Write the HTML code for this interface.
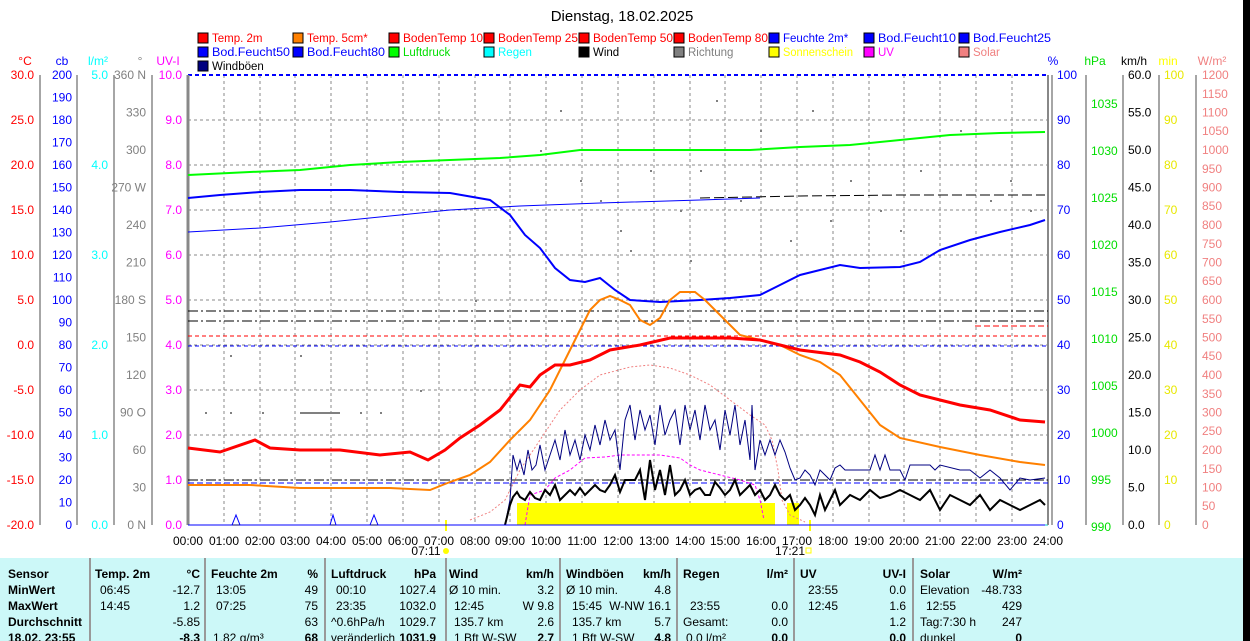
<!DOCTYPE html>
<html><head><meta charset="utf-8"><style>
body{margin:0;background:#fff;}
svg{display:block;font-family:"Liberation Sans",sans-serif;}
</style></head><body>
<svg width="1250" height="641" viewBox="0 0 1250 641" xmlns="http://www.w3.org/2000/svg">
<rect x="0" y="0" width="1250" height="641" fill="#fff"/>
<rect x="1243" y="0" width="7" height="641" fill="#000"/>
<text x="622" y="21" font-size="15" text-anchor="middle" fill="#000">Dienstag, 18.02.2025</text>

<!-- legend -->
<g font-size="11.5">
<g stroke="#000" stroke-width="1">
<rect x="198" y="33" width="10" height="10" fill="#f00"/><rect x="293" y="33" width="10" height="10" fill="#ff8000"/><rect x="389" y="33" width="10" height="10" fill="#f00"/><rect x="484" y="33" width="10" height="10" fill="#f00"/><rect x="579" y="33" width="10" height="10" fill="#f00"/><rect x="674" y="33" width="10" height="10" fill="#f00"/><rect x="769" y="33" width="10" height="10" fill="#00f"/><rect x="864" y="33" width="10" height="10" fill="#00f"/><rect x="959" y="33" width="10" height="10" fill="#00f"/>
<rect x="198" y="47" width="10" height="10" fill="#00f"/><rect x="293" y="47" width="10" height="10" fill="#00f"/><rect x="389" y="47" width="10" height="10" fill="#0f0"/><rect x="484" y="47" width="10" height="10" fill="#0ff"/><rect x="579" y="47" width="10" height="10" fill="#000"/><rect x="674" y="47" width="10" height="10" fill="#808080"/><rect x="769" y="47" width="10" height="10" fill="#ff0"/><rect x="864" y="47" width="10" height="10" fill="#f0f"/><rect x="959" y="47" width="10" height="10" fill="#f08080"/>
<rect x="198" y="61" width="10" height="10" fill="#000080"/>
</g>
<text x="212" y="42" fill="#f00">Temp. 2m</text><text x="307" y="42" fill="#f00">Temp. 5cm*</text><text x="403" y="42" fill="#f00" textLength="80" lengthAdjust="spacingAndGlyphs">BodenTemp 10</text><text x="498" y="42" fill="#f00" textLength="80" lengthAdjust="spacingAndGlyphs">BodenTemp 25</text><text x="593" y="42" fill="#f00" textLength="80" lengthAdjust="spacingAndGlyphs">BodenTemp 50</text><text x="688" y="42" fill="#f00" textLength="80" lengthAdjust="spacingAndGlyphs">BodenTemp 80</text><text x="783" y="42" fill="#00f">Feuchte 2m*</text><text x="878" y="42" fill="#00f" textLength="78" lengthAdjust="spacingAndGlyphs">Bod.Feucht10</text><text x="973" y="42" fill="#00f" textLength="78" lengthAdjust="spacingAndGlyphs">Bod.Feucht25</text>
<text x="212" y="56" fill="#00f" textLength="78" lengthAdjust="spacingAndGlyphs">Bod.Feucht50</text><text x="307" y="56" fill="#00f" textLength="78" lengthAdjust="spacingAndGlyphs">Bod.Feucht80</text><text x="403" y="56" fill="#0d0">Luftdruck</text><text x="498" y="56" fill="#0ff">Regen</text><text x="593" y="56" fill="#000">Wind</text><text x="688" y="56" fill="#808080">Richtung</text><text x="783" y="56" fill="#ff0" textLength="70" lengthAdjust="spacingAndGlyphs">Sonnenschein</text><text x="878" y="56" fill="#f0f">UV</text><text x="973" y="56" fill="#f08080">Solar</text>
<text x="212" y="70" fill="#000">Windböen</text>
</g>

<!-- unit headers -->
<g font-size="12">
<text x="25" y="65" text-anchor="middle" fill="#f00">°C</text><text x="62" y="65" text-anchor="middle" fill="#00f">cb</text><text x="98" y="65" text-anchor="middle" fill="#0ff">l/m²</text><text x="140" y="65" text-anchor="middle" fill="#808080">°</text><text x="168" y="65" text-anchor="middle" fill="#f0f">UV-I</text>
<text x="1053" y="65" text-anchor="middle" fill="#00f">%</text><text x="1095" y="65" text-anchor="middle" fill="#0d0">hPa</text><text x="1134" y="65" text-anchor="middle" fill="#000">km/h</text><text x="1168" y="65" text-anchor="middle" fill="#ff0">min</text><text x="1212" y="65" text-anchor="middle" fill="#f08080">W/m²</text>
</g>

<!-- grid -->
<g stroke="#888" stroke-dasharray="3,3" stroke-width="1">
<line x1="188" y1="120" x2="1048" y2="120"/><line x1="188" y1="165" x2="1048" y2="165"/><line x1="188" y1="210" x2="1048" y2="210"/><line x1="188" y1="255" x2="1048" y2="255"/><line x1="188" y1="300" x2="1048" y2="300"/><line x1="188" y1="345" x2="1048" y2="345"/><line x1="188" y1="390" x2="1048" y2="390"/><line x1="188" y1="435" x2="1048" y2="435"/><line x1="188" y1="480" x2="1048" y2="480"/>
<line x1="224" y1="75" x2="224" y2="525"/><line x1="260" y1="75" x2="260" y2="525"/><line x1="295" y1="75" x2="295" y2="525"/><line x1="331" y1="75" x2="331" y2="525"/><line x1="367" y1="75" x2="367" y2="525"/><line x1="403" y1="75" x2="403" y2="525"/><line x1="439" y1="75" x2="439" y2="525"/><line x1="475" y1="75" x2="475" y2="525"/><line x1="510" y1="75" x2="510" y2="525"/><line x1="546" y1="75" x2="546" y2="525"/><line x1="582" y1="75" x2="582" y2="525"/><line x1="618" y1="75" x2="618" y2="525"/><line x1="654" y1="75" x2="654" y2="525"/><line x1="690" y1="75" x2="690" y2="525"/><line x1="725" y1="75" x2="725" y2="525"/><line x1="761" y1="75" x2="761" y2="525"/><line x1="797" y1="75" x2="797" y2="525"/><line x1="833" y1="75" x2="833" y2="525"/><line x1="869" y1="75" x2="869" y2="525"/><line x1="904" y1="75" x2="904" y2="525"/><line x1="940" y1="75" x2="940" y2="525"/><line x1="976" y1="75" x2="976" y2="525"/><line x1="1012" y1="75" x2="1012" y2="525"/>
</g>
<line x1="188" y1="75" x2="1048" y2="75" stroke="#00f" stroke-width="2" stroke-dasharray="4,3"/>
<line x1="188" y1="525" x2="1048" y2="525" stroke="#0cc" stroke-width="1"/>

<!-- axes lines -->
<g stroke="#888" stroke-width="1.5">
<line x1="40" y1="75" x2="40" y2="525"/><line x1="77" y1="75" x2="77" y2="525"/><line x1="114" y1="75" x2="114" y2="525"/><line x1="152" y1="75" x2="152" y2="525"/><line x1="188" y1="75" x2="188" y2="525" stroke-width="3"/>
<line x1="1048" y1="75" x2="1048" y2="525" stroke-width="2"/><line x1="1052" y1="75" x2="1052" y2="525"/><line x1="1086" y1="75" x2="1086" y2="525"/><line x1="1123" y1="75" x2="1123" y2="525"/><line x1="1159" y1="75" x2="1159" y2="525"/><line x1="1196" y1="75" x2="1196" y2="525"/>
</g>

<!-- left tick labels -->
<g font-size="12" text-anchor="end" dominant-baseline="central">
<g fill="#f00"><text x="34" y="75">30.0</text><text x="34" y="120">25.0</text><text x="34" y="165">20.0</text><text x="34" y="210">15.0</text><text x="34" y="255">10.0</text><text x="34" y="300">5.0</text><text x="34" y="345">0.0</text><text x="34" y="390">-5.0</text><text x="34" y="435">-10.0</text><text x="34" y="480">-15.0</text><text x="34" y="525">-20.0</text></g>
<g fill="#00f"><text x="72" y="75">200</text><text x="72" y="97.5">190</text><text x="72" y="120">180</text><text x="72" y="142.5">170</text><text x="72" y="165">160</text><text x="72" y="187.5">150</text><text x="72" y="210">140</text><text x="72" y="232.5">130</text><text x="72" y="255">120</text><text x="72" y="277.5">110</text><text x="72" y="300">100</text><text x="72" y="322.5">90</text><text x="72" y="345">80</text><text x="72" y="367.5">70</text><text x="72" y="390">60</text><text x="72" y="412.5">50</text><text x="72" y="435">40</text><text x="72" y="457.5">30</text><text x="72" y="480">20</text><text x="72" y="502.5">10</text><text x="72" y="525">0</text></g>
<g fill="#0ff"><text x="108" y="75">5.0</text><text x="108" y="165">4.0</text><text x="108" y="255">3.0</text><text x="108" y="345">2.0</text><text x="108" y="435">1.0</text><text x="108" y="525">0.0</text></g>
<g fill="#808080"><text x="146" y="75">360 N</text><text x="146" y="112.5">330</text><text x="146" y="150">300</text><text x="146" y="187.5">270 W</text><text x="146" y="225">240</text><text x="146" y="262.5">210</text><text x="146" y="300">180 S</text><text x="146" y="337.5">150</text><text x="146" y="375">120</text><text x="146" y="412.5">90 O</text><text x="146" y="450">60</text><text x="146" y="487.5">30</text><text x="146" y="525">0 N</text></g>
<g fill="#f0f"><text x="182" y="75">10.0</text><text x="182" y="120">9.0</text><text x="182" y="165">8.0</text><text x="182" y="210">7.0</text><text x="182" y="255">6.0</text><text x="182" y="300">5.0</text><text x="182" y="345">4.0</text><text x="182" y="390">3.0</text><text x="182" y="435">2.0</text><text x="182" y="480">1.0</text><text x="182" y="525">0.0</text></g>
</g>
<!-- right tick labels -->
<g font-size="12" dominant-baseline="central">
<g fill="#00f"><text x="1057" y="75">100</text><text x="1057" y="120">90</text><text x="1057" y="165">80</text><text x="1057" y="210">70</text><text x="1057" y="255">60</text><text x="1057" y="300">50</text><text x="1057" y="345">40</text><text x="1057" y="390">30</text><text x="1057" y="435">20</text><text x="1057" y="480">10</text><text x="1057" y="525">0</text></g>
<g fill="#0d0"><text x="1091" y="104">1035</text><text x="1091" y="151">1030</text><text x="1091" y="198">1025</text><text x="1091" y="245">1020</text><text x="1091" y="292">1015</text><text x="1091" y="339">1010</text><text x="1091" y="386">1005</text><text x="1091" y="433">1000</text><text x="1091" y="480">995</text><text x="1091" y="527">990</text></g>
<g fill="#000"><text x="1128" y="75">60.0</text><text x="1128" y="112.5">55.0</text><text x="1128" y="150">50.0</text><text x="1128" y="187.5">45.0</text><text x="1128" y="225">40.0</text><text x="1128" y="262.5">35.0</text><text x="1128" y="300">30.0</text><text x="1128" y="337.5">25.0</text><text x="1128" y="375">20.0</text><text x="1128" y="412.5">15.0</text><text x="1128" y="450">10.0</text><text x="1128" y="487.5">5.0</text><text x="1128" y="525">0.0</text></g>
<g fill="#e8e800"><text x="1164" y="75">100</text><text x="1164" y="120">90</text><text x="1164" y="165">80</text><text x="1164" y="210">70</text><text x="1164" y="255">60</text><text x="1164" y="300">50</text><text x="1164" y="345">40</text><text x="1164" y="390">30</text><text x="1164" y="435">20</text><text x="1164" y="480">10</text><text x="1164" y="525">0</text></g>
<g fill="#f08080"><text x="1202" y="75">1200</text><text x="1202" y="94">1150</text><text x="1202" y="112.5">1100</text><text x="1202" y="131">1050</text><text x="1202" y="150">1000</text><text x="1202" y="169">950</text><text x="1202" y="187.5">900</text><text x="1202" y="206">850</text><text x="1202" y="225">800</text><text x="1202" y="244">750</text><text x="1202" y="262.5">700</text><text x="1202" y="281">650</text><text x="1202" y="300">600</text><text x="1202" y="319">550</text><text x="1202" y="337.5">500</text><text x="1202" y="356">450</text><text x="1202" y="375">400</text><text x="1202" y="394">350</text><text x="1202" y="412.5">300</text><text x="1202" y="431">250</text><text x="1202" y="450">200</text><text x="1202" y="469">150</text><text x="1202" y="487.5">100</text><text x="1202" y="506">50</text><text x="1202" y="525">0</text></g>
</g>

<!-- x labels -->
<g font-size="12" text-anchor="middle" fill="#000">
<text x="188" y="545">00:00</text><text x="224" y="545">01:00</text><text x="260" y="545">02:00</text><text x="295" y="545">03:00</text><text x="331" y="545">04:00</text><text x="367" y="545">05:00</text><text x="403" y="545">06:00</text><text x="439" y="545">07:00</text><text x="475" y="545">08:00</text><text x="510" y="545">09:00</text><text x="546" y="545">10:00</text><text x="582" y="545">11:00</text><text x="618" y="545">12:00</text><text x="654" y="545">13:00</text><text x="690" y="545">14:00</text><text x="725" y="545">15:00</text><text x="761" y="545">16:00</text><text x="797" y="545">17:00</text><text x="833" y="545">18:00</text><text x="869" y="545">19:00</text><text x="904" y="545">20:00</text><text x="940" y="545">21:00</text><text x="976" y="545">22:00</text><text x="1012" y="545">23:00</text><text x="1048" y="545">24:00</text>
<text x="426" y="555">07:11</text><text x="790" y="555">17:21</text>
</g>
<circle cx="446" cy="551" r="3" fill="#ff0"/><rect x="806" y="548" width="5" height="5" fill="none" stroke="#ff0"/>
<line x1="446" y1="520" x2="446" y2="531" stroke="#ff0" stroke-width="2"/><line x1="810" y1="520" x2="810" y2="531" stroke="#ff0" stroke-width="2"/>

<!-- sunshine -->
<rect x="517" y="503" width="232" height="22" fill="#ff0"/><rect x="749" y="503" width="26" height="22" fill="#ff0"/><rect x="787" y="503" width="12" height="22" fill="#ff0"/>

<!-- horizontal reference lines -->
<line x1="188" y1="311" x2="1048" y2="311" stroke="#000" stroke-dasharray="10,3,2,3"/>
<line x1="188" y1="321" x2="1048" y2="321" stroke="#000" stroke-dasharray="10,3,2,3"/>
<line x1="188" y1="336" x2="1048" y2="336" stroke="#f00" stroke-dasharray="4,3"/>
<line x1="188" y1="346" x2="1048" y2="346" stroke="#00f" stroke-dasharray="4,3"/>
<line x1="975" y1="326" x2="1048" y2="326" stroke="#f00" stroke-dasharray="6,3"/>
<line x1="188" y1="480" x2="1048" y2="480" stroke="#000" stroke-dasharray="10,3,2,3"/>
<line x1="188" y1="483" x2="1048" y2="483" stroke="#00f" stroke-dasharray="6,3"/>
<polyline fill="none" stroke="#000" stroke-dasharray="10,4" points="700,198 800,196 900,195 1045,195"/>
<polyline fill="none" stroke="#00f" points="188,232 260,228 330,222 400,215 450,210 520,206 600,203 700,200 760,198"/>

<!-- direction dots -->
<g fill="#808080">
<rect x="205" y="412" width="2" height="2"/><rect x="230" y="412" width="2" height="2"/><rect x="262" y="412" width="2" height="2"/><rect x="300" y="412" width="40" height="2"/><rect x="360" y="412" width="2" height="2"/><rect x="380" y="412" width="2" height="2"/><rect x="230" y="355" width="2" height="2"/><rect x="300" y="355" width="2" height="2"/><rect x="420" y="390" width="2" height="2"/><rect x="475" y="300" width="2" height="2"/><rect x="540" y="150" width="2" height="2"/><rect x="560" y="110" width="2" height="2"/><rect x="600" y="200" width="2" height="2"/><rect x="620" y="230" width="2" height="2"/><rect x="650" y="170" width="2" height="2"/><rect x="690" y="260" width="2" height="2"/><rect x="716" y="100" width="2" height="2"/><rect x="740" y="200" width="2" height="2"/><rect x="760" y="130" width="2" height="2"/><rect x="790" y="240" width="2" height="2"/><rect x="812" y="110" width="2" height="2"/><rect x="830" y="220" width="2" height="2"/><rect x="850" y="180" width="2" height="2"/><rect x="880" y="210" width="2" height="2"/><rect x="900" y="230" width="2" height="2"/><rect x="920" y="170" width="2" height="2"/><rect x="960" y="130" width="2" height="2"/><rect x="990" y="200" width="2" height="2"/><rect x="1010" y="180" width="2" height="2"/><rect x="1030" y="210" width="2" height="2"/><rect x="580" y="180" width="2" height="2"/><rect x="630" y="250" width="2" height="2"/><rect x="680" y="210" width="2" height="2"/><rect x="700" y="170" width="2" height="2"/>
</g>

<!-- solar -->
<polyline fill="none" stroke="#f08080" stroke-dasharray="2,2" points="470,520 490,512 505,500 520,470 540,440 560,410 580,390 600,375 630,367 650,365 670,368 690,375 710,385 730,400 750,415 765,425 772,440 778,470 782,500 790,515 805,522"/>
<!-- UV -->
<polyline fill="none" stroke="#f0f" stroke-dasharray="3,2" points="525,525 530,495 545,490 555,478 570,470 585,458 605,457 620,455 660,455 680,458 690,465 700,470 720,475 740,480 755,485 760,500 764,520"/>

<!-- Feuchte 2m -->
<polyline fill="none" stroke="#00f" stroke-width="2" points="188,198 220,195 260,192 300,190 350,190 400,192 450,193 490,200 510,215 525,235 540,248 555,268 570,280 585,282 600,278 615,290 630,300 660,302 700,300 730,298 760,295 780,285 800,275 820,270 840,265 860,268 900,267 920,262 940,250 970,240 1000,232 1030,225 1045,220"/>
<!-- Luftdruck -->
<polyline fill="none" stroke="#0f0" stroke-width="2" points="188,175 250,172 300,170 350,165 400,162 450,160 500,158 540,155 580,150 650,150 700,150 750,150 800,147 850,145 900,140 950,135 1000,133 1045,132"/>
<!-- Temp 5cm -->
<polyline fill="none" stroke="#ff8000" stroke-width="2" points="188,485 250,485 300,488 350,488 390,488 430,490 450,482 470,475 490,462 510,440 530,420 550,390 565,360 575,340 590,310 600,300 610,296 620,300 630,305 640,320 650,325 660,318 670,300 680,292 695,292 705,300 720,315 740,335 760,340 780,345 800,355 820,362 840,375 860,400 880,425 900,438 940,447 980,455 1020,462 1045,465"/>
<!-- Temp 2m -->
<polyline fill="none" stroke="#f00" stroke-width="3" points="188,448 220,452 255,440 270,448 300,450 340,450 380,455 410,452 428,460 445,450 460,438 480,425 500,410 520,385 530,387 540,375 555,365 570,365 590,360 610,350 640,345 670,338 700,338 730,338 760,340 780,345 800,350 840,355 860,362 880,372 900,385 920,395 940,400 960,405 990,410 1020,420 1045,422"/>
<!-- Windböen -->
<polyline fill="none" stroke="#000080" stroke-width="1" points="188,525 500,525 505,525 510,500 513,455 517,470 520,460 524,475 528,450 532,470 536,465 540,445 545,470 550,455 555,440 560,460 565,430 570,455 575,440 580,460 585,435 590,450 595,425 600,445 605,420 610,440 615,430 620,470 625,420 630,405 635,440 640,410 645,430 650,415 655,445 660,405 665,435 670,420 675,410 680,445 685,405 690,430 695,410 700,440 705,405 710,430 715,420 720,450 725,410 730,435 735,405 740,445 745,420 750,460 752,405 755,470 760,440 765,455 770,440 775,455 780,440 785,452 790,468 795,480 800,478 805,470 810,475 815,485 820,470 825,475 830,480 835,468 840,465 845,470 860,470 870,470 875,455 880,470 885,455 890,470 900,470 905,480 910,465 930,465 935,470 940,465 960,470 970,470 980,478 990,470 1000,478 1010,490 1020,478 1030,480 1045,478"/>
<!-- Wind -->
<polyline fill="none" stroke="#000" stroke-width="2" points="505,525 510,505 513,497 517,492 520,497 525,500 530,492 535,498 540,500 545,490 550,495 555,485 560,500 565,495 570,490 575,495 580,488 585,495 590,490 595,485 600,490 605,492 610,485 615,475 620,492 625,480 630,480 635,480 640,470 645,500 650,460 655,490 660,470 665,495 670,465 675,495 680,490 685,480 690,495 695,490 700,488 705,495 710,495 715,482 720,488 725,495 730,490 735,480 740,495 745,490 750,485 755,495 760,490 765,500 770,495 775,485 780,495 785,500 790,495 795,510 800,505 805,498 810,505 815,515 820,495 825,510 830,500 835,490 840,505 850,495 860,500 870,490 880,498 890,495 900,490 910,495 920,500 930,490 940,510 950,495 960,500 970,505 980,495 990,510 1000,500 1010,505 1020,510 1030,505 1040,500 1045,505"/>
<polyline fill="none" stroke="#00f" stroke-width="1" points="188,525 232,525 236,515 240,525 330,525 333,515 336,525 370,525 374,515 378,525 1045,525"/>

<!-- table -->
<rect x="0" y="558" width="1243" height="83" fill="#ccf8f8"/>
<g stroke="#999" stroke-width="2">
<line x1="90" y1="558" x2="90" y2="641"/><line x1="205" y1="558" x2="205" y2="641"/><line x1="325" y1="558" x2="325" y2="641"/><line x1="446" y1="558" x2="446" y2="641"/><line x1="560" y1="558" x2="560" y2="641"/><line x1="677" y1="558" x2="677" y2="641"/><line x1="794" y1="558" x2="794" y2="641"/><line x1="913" y1="558" x2="913" y2="641"/>
</g>
<g font-size="12" fill="#000">
<g font-weight="bold"><text x="8" y="578">Sensor</text><text x="8" y="594">MinWert</text><text x="8" y="610">MaxWert</text><text x="8" y="626">Durchschnitt</text><text x="8" y="642">18.02. 23:55</text>
<text x="95" y="578">Temp. 2m</text><text x="200" y="578" text-anchor="end">°C</text>
<text x="211" y="578">Feuchte 2m</text><text x="318" y="578" text-anchor="end">%</text>
<text x="331" y="578">Luftdruck</text><text x="436" y="578" text-anchor="end">hPa</text>
<text x="449" y="578">Wind</text><text x="554" y="578" text-anchor="end">km/h</text>
<text x="566" y="578">Windböen</text><text x="671" y="578" text-anchor="end">km/h</text>
<text x="683" y="578">Regen</text><text x="788" y="578" text-anchor="end">l/m²</text>
<text x="800" y="578">UV</text><text x="906" y="578" text-anchor="end">UV-I</text>
<text x="920" y="578">Solar</text><text x="1022" y="578" text-anchor="end">W/m²</text>
<text x="200" y="642" text-anchor="end">-8.3</text><text x="318" y="642" text-anchor="end">68</text><text x="436" y="642" text-anchor="end">1031.9</text><text x="554" y="642" text-anchor="end">2.7</text><text x="671" y="642" text-anchor="end">4.8</text><text x="788" y="642" text-anchor="end">0.0</text><text x="906" y="642" text-anchor="end">0.0</text><text x="1022" y="642" text-anchor="end">0</text>
</g>
<text x="100" y="594">06:45</text><text x="200" y="594" text-anchor="end">-12.7</text><text x="100" y="610">14:45</text><text x="200" y="610" text-anchor="end">1.2</text><text x="200" y="626" text-anchor="end">-5.85</text>
<text x="216" y="594">13:05</text><text x="318" y="594" text-anchor="end">49</text><text x="216" y="610">07:25</text><text x="318" y="610" text-anchor="end">75</text><text x="318" y="626" text-anchor="end">63</text><text x="213" y="642">1.82 g/m³</text>
<text x="336" y="594">00:10</text><text x="436" y="594" text-anchor="end">1027.4</text><text x="336" y="610">23:35</text><text x="436" y="610" text-anchor="end">1032.0</text><text x="331" y="626">^0.6hPa/h</text><text x="436" y="626" text-anchor="end">1029.7</text><text x="331" y="642" textLength="64" lengthAdjust="spacingAndGlyphs">veränderlich</text>
<text x="449" y="594">Ø 10 min.</text><text x="554" y="594" text-anchor="end">3.2</text><text x="454" y="610">12:45</text><text x="554" y="610" text-anchor="end">W 9.8</text><text x="454" y="626">135.7 km</text><text x="554" y="626" text-anchor="end">2.6</text><text x="454" y="642">1 Bft W-SW</text>
<text x="566" y="594">Ø 10 min.</text><text x="671" y="594" text-anchor="end">4.8</text><text x="572" y="610">15:45</text><text x="671" y="610" text-anchor="end">W-NW 16.1</text><text x="572" y="626">135.7 km</text><text x="671" y="626" text-anchor="end">5.7</text><text x="572" y="642">1 Bft W-SW</text>
<text x="690" y="610">23:55</text><text x="788" y="610" text-anchor="end">0.0</text><text x="683" y="626">Gesamt:</text><text x="788" y="626" text-anchor="end">0.0</text><text x="686" y="642">0.0 l/m²</text>
<text x="808" y="594">23:55</text><text x="906" y="594" text-anchor="end">0.0</text><text x="808" y="610">12:45</text><text x="906" y="610" text-anchor="end">1.6</text><text x="906" y="626" text-anchor="end">1.2</text>
<text x="920" y="594">Elevation</text><text x="1022" y="594" text-anchor="end">-48.733</text><text x="926" y="610">12:55</text><text x="1022" y="610" text-anchor="end">429</text><text x="920" y="626">Tag:7:30 h</text><text x="1022" y="626" text-anchor="end">247</text><text x="920" y="642">dunkel</text>
</g>
</svg>
</body></html>
